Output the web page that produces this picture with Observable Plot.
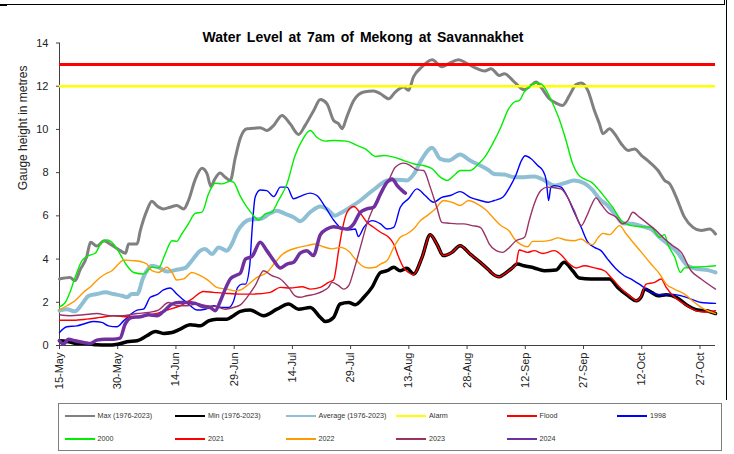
<!DOCTYPE html>
<html>
<head>
<meta charset="utf-8">
<script src="https://cdn.jsdelivr.net/npm/d3@7"></script>
<script src="https://cdn.jsdelivr.net/npm/@observablehq/plot@0.6"></script>
<style>
  body { margin: 0; background: #fff; font-family: "Liberation Sans", Arial, sans-serif; }
  #wrap { position: relative; width: 734px; height: 454px; overflow: hidden; background: #fff; }
  #chart { position: absolute; left: 0; top: 0; }
  #title { position: absolute; left: 0; width: 726px; top: 29px; text-align: center; font-weight: bold;
           font-size: 14px; line-height: 16px; color: #000; word-spacing: 2px; }
  .bline { position: absolute; background: #000; }
  #legend { position: absolute; left: 58px; top: 403px; width: 664px; height: 48px; box-sizing: border-box;
            border: 1.5px solid #7f7f7f; }
  .lg-line { position: absolute; height: 2px; width: 30px; }
  .lg-text { position: absolute; font-size: 7.2px; line-height: 9px; color: #333; white-space: nowrap; }
</style>
</head>
<body>
<div id="wrap">
  <div id="chart"></div>
  <div id="title">Water Level at 7am of Mekong at Savannakhet</div>
  <div class="bline" style="left:0;top:4px;width:725px;height:1px"></div>
  <div class="bline" style="left:0;top:4px;width:7px;height:2px"></div>
  <div class="bline" style="left:724px;top:0;width:1px;height:5px"></div>
  <div class="bline" style="left:726px;top:0;width:1px;height:400px"></div>
  <div id="legend"></div>
</div>
<script>
// x = days after 15 May, y = gauge height (m)
const tickDays = [0, 15, 30, 45, 60, 75, 90, 105, 120, 135, 150, 165];
const tickLabels = ["15-May", "30-May", "14-Jun", "29-Jun", "14-Jul", "29-Jul", "13-Aug", "28-Aug", "12-Sep", "27-Sep", "12-Oct", "27-Oct"];
const yTicks = [0, 2, 4, 6, 8, 10, 12, 14];
const alarmLevel = 12;
const floodLevel = 13;

const maxLevel = [[0,3.08],[2.7,3.15],[4,3.0],[5.3,3.5],[7,4.1],[8,4.78],[9.6,4.6],[11.5,4.85],[13,4.7],[15,4.47],[17,4.27],[17.8,4.7],[20,4.7],[20.8,5.3],[22.5,6.24],[23.8,6.68],[25,6.48],[26.8,6.32],[28.5,6.4],[30.2,6.48],[32,6.32],[33.2,6.7],[35,7.7],[36.7,8.2],[38,7.95],[39,7.36],[40,7.7],[41.4,7.98],[42.7,7.79],[44,7.64],[45.3,8.7],[46.6,9.6],[48.3,10.03],[50,10.05],[51.7,10.08],[53.4,9.95],[55.2,10.19],[57.3,10.65],[59.4,10.26],[61.6,9.77],[63.3,10.19],[65.5,10.88],[67.2,11.38],[68.9,11.19],[70.6,10.42],[71.9,10.26],[72.8,10.03],[74,10.57],[75.8,11.34],[78.4,11.73],[80.9,11.78],[82.7,11.65],[84.8,11.42],[86.5,11.73],[88.7,11.96],[89.9,11.81],[91.2,12.43],[93.4,12.9],[96,13.23],[98.5,12.9],[100.3,13.05],[102.8,13.23],[105,13.05],[107.6,12.81],[109.5,12.7],[111.2,12.81],[113.3,12.5],[114.6,12.58],[117.2,12.19],[119.7,11.84],[121.5,12.04],[122.8,12.19],[124,11.96],[126.2,11.42],[127.9,11.22],[129.6,11.11],[131.4,11.58],[133.1,12.08],[134.4,12.15],[136.1,11.81],[137.8,10.88],[139.1,10.26],[140,9.8],[141.7,10.03],[143,9.8],[144.7,9.34],[146.5,9.03],[148.2,9.1],[149.9,8.8],[152,8.49],[154.2,8.1],[155.9,7.64],[157.2,7.48],[158.9,6.86],[161,5.94],[163.2,5.47],[165.3,5.32],[167.5,5.39],[169,5.16]];

const minLevel = [[0,0.22],[1.9,0.19],[4.5,0.09],[7,0.09],[9.6,0.03],[12.2,0.02],[15,0.06],[17.4,0.17],[20,0.22],[22.5,0.45],[24.7,0.65],[26.8,0.56],[29,0.6],[31.1,0.76],[33.7,0.96],[36.3,0.91],[38.4,1.14],[40.5,1.22],[43.1,1.22],[44.8,1.38],[46.6,1.58],[49.1,1.64],[52.6,1.38],[56,1.68],[59,1.92],[61.6,1.68],[64.6,1.76],[67.2,1.3],[68.5,1.11],[70.6,1.3],[72.3,1.92],[74.5,1.99],[76.2,1.89],[78.4,2.23],[80.5,2.69],[82.7,3.38],[84.4,3.46],[86.1,3.62],[87.8,3.46],[89.5,3.57],[91.2,3.31],[93.4,4.08],[95.5,5.13],[97.2,4.7],[98.9,4.16],[101.1,4.31],[103.2,4.62],[105.8,4.23],[108.4,3.85],[110.6,3.49],[111.2,3.38],[113.3,3.18],[114.6,3.31],[116.3,3.54],[118,3.77],[119.7,3.69],[122.3,3.59],[124.9,3.46],[127.9,3.49],[130,3.85],[132.2,3.46],[133.9,3.12],[136.9,3.08],[141.7,3.08],[143.8,2.69],[146.5,2.3],[148.6,2.07],[149.9,2.26],[150.7,2.61],[152.5,2.46],[154.2,2.3],[156.3,2.35],[158.9,2.23],[161.9,1.84],[164.4,1.64],[166.6,1.61],[169,1.48]];

const avgLevel = [[0,1.61],[1.9,1.68],[4,1.58],[5.8,1.92],[7.5,2.3],[9.6,2.38],[11.8,2.46],[13.9,2.38],[16.1,2.3],[17.4,2.23],[18.6,2.38],[20,2.38],[21.6,3.15],[23.8,3.69],[25.5,3.62],[27.7,3.42],[29.8,3.49],[32.4,3.59],[34.1,3.93],[36.3,4.39],[37.5,4.47],[39.3,4.23],[41,4.54],[43.1,4.39],[44.4,4.7],[45.7,5.24],[47.4,5.66],[49.1,5.83],[51.7,5.86],[54.3,6.12],[56,6.24],[58.2,6.09],[60.3,5.94],[62,5.75],[64.6,6.17],[67.2,6.43],[68.9,6.32],[71,6.01],[72.3,6.12],[74.9,6.4],[77.5,6.71],[80.1,7.09],[81.8,7.33],[84.4,7.64],[86.9,7.67],[89.5,7.64],[91.2,7.91],[93.4,8.64],[96,9.15],[98.1,8.64],[100.3,8.56],[103.2,8.84],[105.8,8.56],[108.4,8.33],[110.5,8.12],[112,7.94],[114.6,7.91],[117.2,7.79],[119.7,7.79],[122.3,7.82],[124.9,7.64],[127.5,7.4],[130,7.51],[132.6,7.64],[135.2,7.51],[137.3,7.2],[139.1,6.79],[141.2,6.48],[143.4,6.01],[145.1,5.66],[147.7,5.63],[150.3,5.5],[152.4,5.39],[154.6,5.01],[156.7,4.7],[159.2,4.31],[161.8,3.69],[164.4,3.54],[167,3.49],[169,3.38]];

const level1998 = [[0,0.6],[1.9,0.87],[4.5,0.91],[6.6,1.02],[8.8,1.11],[10.9,1.07],[12.6,0.91],[14.8,0.87],[16.5,1.14],[18.6,1.48],[20,1.64],[21.6,1.68],[23.4,2.23],[25.1,2.35],[26.8,2.57],[28.5,2.66],[30.2,2.38],[32,2.1],[33.7,1.84],[35.4,1.64],[37.5,1.68],[39.7,1.84],[41.8,1.76],[43.6,1.76],[44.8,2.04],[45.9,2.69],[47,2.84],[47.9,2.84],[49,3.69],[49.6,5.32],[50.4,6.86],[51.7,7.2],[53.4,7.17],[55.2,6.89],[56.9,7.33],[58.6,7.33],[60.3,6.79],[62.5,6.94],[64.6,7.05],[66.3,6.94],[68.5,6.4],[70.6,5.81],[72.3,5.47],[74.5,5.35],[76.2,5.39],[77,5.04],[78.4,5.47],[80.5,5.78],[82.7,5.63],[84.4,5.39],[86.1,5.47],[87.8,6.4],[89.9,6.79],[92.1,7.25],[94.2,6.94],[96.4,6.63],[98.5,6.86],[100.7,6.94],[103.2,7.12],[105.8,6.86],[108.4,6.71],[110.5,6.63],[112,6.71],[114.2,6.86],[116,7.33],[117.7,7.94],[119,8.56],[120,8.78],[121.5,8.64],[123.2,8.33],[124.5,8.1],[125.4,7.64],[126,6.71],[126.6,7.33],[127.5,7.4],[129.2,7.33],[130.9,6.86],[132.6,6.17],[134.4,5.47],[136.1,4.78],[137.8,4.54],[139.5,4.39],[141.2,4.0],[143.4,3.54],[145.5,3.23],[147.7,3.03],[149.9,2.77],[152.4,2.46],[155,2.35],[157.6,2.38],[160.2,2.3],[162.7,2.15],[165.3,1.99],[169,1.95]];

const level2000 = [[0,1.79],[1.5,1.99],[2.7,2.46],[4,3.15],[5.8,3.93],[7.5,4.16],[9.2,4.27],[10.9,4.78],[12.2,4.88],[13.9,4.7],[15.6,4.23],[17.4,3.69],[19.1,3.38],[21.6,3.31],[23.8,3.62],[25.5,3.59],[27.2,4.23],[29,4.85],[30.2,4.82],[31.5,5.16],[33.2,5.63],[35,6.12],[36.7,6.17],[38.4,7.02],[40.1,7.51],[41.8,7.48],[44,7.6],[44.8,7.56],[46.6,6.9],[48.3,6.4],[50,6.01],[51.3,5.81],[53,6.09],[54.7,6.17],[56.4,6.71],[58.6,7.48],[60.7,8.79],[62.5,9.49],[64.6,9.95],[66.3,9.64],[68.5,9.46],[70.6,9.49],[74,9.46],[76.6,9.26],[78.8,9.1],[81.4,8.75],[83.5,8.79],[86.1,8.72],[88.7,8.56],[91.2,8.41],[93.8,8.33],[96,8.18],[98.1,7.79],[99.9,7.64],[101.6,7.87],[103.3,8.1],[105.8,8.1],[108,8.41],[109.7,8.75],[111.6,9.34],[113.7,10.1],[115.5,10.88],[117.2,11.27],[118.5,11.34],[119.7,11.73],[121.5,12.04],[122.8,12.15],[124,12.12],[125.4,11.81],[127.1,11.19],[128.8,10.45],[130.5,9.49],[132.2,8.41],[133.5,7.94],[135.2,7.71],[137,7.56],[139.1,7.17],[140.8,6.79],[142.5,6.4],[144.7,5.78],[147.3,5.55],[149.9,5.5],[152.4,5.47],[154.6,5.01],[155.9,5.13],[156.7,4.7],[158.5,4.08],[160,3.38],[161,3.59],[163.6,3.62],[166.1,3.65],[169,3.69]];

const level2021 = [[0,1.17],[3.6,1.17],[7,1.22],[10.5,1.3],[13.9,1.38],[17.4,1.33],[20.8,1.33],[24.2,1.45],[27.7,1.64],[31.1,1.84],[34.1,2.15],[37.1,2.5],[39.7,2.46],[43.1,2.41],[46.6,2.38],[50,2.38],[54.3,2.46],[56.9,2.69],[59.4,2.66],[62.5,2.72],[64.6,2.61],[67.2,2.69],[69.3,2.92],[70.6,3.03],[71.9,4.39],[72.8,5.32],[74.1,6.17],[75.8,6.43],[77.5,6.12],[79.2,5.7],[80.9,5.47],[82.7,5.24],[84.8,5.01],[86.1,4.7],[87.4,4.08],[88.7,3.59],[89.9,3.38],[91.2,3.28],[93.4,4.08],[95.5,5.13],[97.2,4.7],[98.9,4.16],[101.1,4.31],[103.2,4.62],[105.8,4.23],[108.4,3.85],[110.6,3.49],[111.2,3.38],[113.3,3.18],[114.6,3.31],[116.3,3.54],[117.6,3.75],[118.4,4.42],[120.6,4.31],[122.3,4.39],[124.5,4.26],[127.5,4.39],[129.2,4.2],[131.4,3.77],[133.1,3.59],[135.2,3.69],[137.8,3.59],[140.4,3.46],[142.1,3.15],[144.7,2.63],[147.3,2.24],[148.6,2.07],[149.9,2.3],[151.1,2.84],[153.3,2.92],[155,3.08],[156.3,2.69],[158.4,2.24],[161,1.92],[163.6,1.64],[166.1,1.55],[169,1.61]];

const level2022 = [[0,1.64],[1.9,1.84],[4,2.07],[6.2,2.46],[8.3,2.77],[10,3.08],[11.8,3.31],[13.5,3.46],[15.2,3.77],[16.5,3.96],[18.6,3.93],[20.8,3.89],[22.5,3.77],[23.8,3.46],[25.5,3.38],[27.7,3.62],[29,3.38],[30.2,3.03],[32,3.08],[34.1,3.38],[36.3,3.23],[38.4,3.0],[40.5,2.69],[43.1,2.61],[45.3,2.53],[47,2.6],[48.3,2.77],[50.9,3.15],[53.4,3.38],[55.6,3.85],[57.3,4.2],[59.4,4.42],[61.6,4.54],[63.7,4.62],[65.9,4.7],[68,4.57],[70.2,4.47],[72.3,4.54],[74.5,4.36],[76.2,4.0],[77.9,3.69],[79.6,3.59],[81.4,3.62],[82.7,3.77],[84.4,3.93],[86.1,4.54],[87.8,5.01],[89.5,5.16],[91.2,5.39],[93,5.78],[94.7,6.01],[96.8,6.32],[99,6.71],[101.1,6.63],[103.2,6.48],[105.4,6.71],[107.6,6.55],[109.8,6.28],[111.6,5.94],[113.7,5.55],[115.9,5.29],[117.2,4.93],[118.9,4.67],[120.6,4.57],[121.9,4.82],[124,4.82],[126.6,4.88],[128.4,4.98],[130.5,4.88],[132.6,4.85],[134.4,4.93],[136.1,4.73],[137.4,4.67],[138.7,4.98],[140,5.19],[141.7,5.13],[144.3,5.55],[146,5.16],[148.1,4.7],[150.3,4.23],[152.4,3.77],[154.6,3.31],[156.3,2.84],[158.4,2.61],[161,2.38],[163.6,1.99],[166.1,1.68],[169,1.48]];

const level2023 = [[0,1.42],[2.7,1.38],[6.2,1.42],[9.6,1.48],[13.1,1.38],[16.5,1.38],[20,1.48],[22.9,1.53],[25.5,1.64],[28.1,1.99],[30.2,1.84],[32.8,1.84],[35.4,1.92],[38,1.84],[40.5,1.79],[42.7,1.68],[44.8,1.76],[46.6,1.88],[48.3,2.23],[50.4,2.77],[52.6,3.46],[54.7,3.23],[56.9,3.08],[59,2.69],[60.7,2.3],[62,2.23],[63.7,2.3],[65.9,2.38],[68,2.53],[69.3,2.69],[70.2,2.92],[71.9,2.77],[73.2,2.61],[74.5,2.77],[75.8,3.46],[77.5,4.54],[79.2,5.63],[80.9,6.4],[82.7,7.02],[84.8,7.64],[86.5,8.25],[88.7,8.44],[90.4,8.33],[92.1,8.13],[93.8,8.1],[95.5,7.33],[97.2,6.4],[98.5,5.7],[100.3,5.66],[102.4,5.63],[104.1,5.63],[106.3,5.55],[108.4,5.47],[109.8,5.05],[110.7,4.7],[112.5,4.39],[114.2,4.31],[115.9,4.54],[117.6,4.85],[119.8,5.01],[121,5.78],[122.3,6.55],[124,7.17],[125.7,7.33],[127.5,7.3],[129.2,7.25],[130.9,6.86],[132.6,6.24],[134.4,5.55],[135.7,5.94],[137,6.48],[138.2,6.83],[139.5,6.55],[141.2,6.17],[143.4,5.94],[145.1,5.63],[146.4,5.78],[147.7,6.17],[149.4,5.94],[151.6,5.63],[153.7,5.32],[155.9,4.93],[158,4.62],[160.2,4.31],[162.7,3.46],[165.3,3.08],[169,2.61]];

const level2024 = [[0,0.22],[1,0.06],[2.3,0.29],[4,0.22],[6.2,0.14],[7.9,0.09],[9.6,0.25],[11.8,0.29],[13.9,0.29],[15.6,0.34],[16.9,0.99],[18.6,1.3],[20.8,1.33],[22.9,1.42],[25.1,1.38],[26.8,1.58],[29,1.92],[30.7,1.99],[32.8,1.99],[35,1.95],[37.1,1.79],[38.8,1.76],[40.1,1.61],[41.4,2.04],[42.7,2.61],[44,3.08],[45.3,3.23],[46.6,3.35],[47.9,4.0],[49.6,4.12],[51.7,4.78],[53.4,4.39],[55.2,3.93],[56.9,3.59],[58.6,3.77],[60.3,3.85],[62,4.27],[63.7,4.39],[65.4,4.16],[67.2,5.13],[68.9,5.39],[70.6,5.5],[72.3,5.44],[74,5.39],[75.8,5.63],[77.5,6.17],[79.2,6.32],[80.9,6.4],[82.7,7.02],[84.4,7.56],[85.7,7.71],[87,7.4],[88.3,7.17],[89.1,7.05]];

const seriesNames = ["Max (1976-2023)", "Min (1976-2023)", "Average (1976-2023)", "Alarm", "Flood", "1998", "2000", "2021", "2022", "2023", "2024"];
const seriesColors = ["#808080", "#000000", "#8fbfd4", "#ffff00", "#ff0000", "#0000ff", "#00ee00", "#ff0000", "#ff9900", "#993366", "#7030a0"];
const seriesWidths = [3, 3.5, 4, 2.5, 3, 1.4, 1.4, 1.4, 1.4, 1.4, 3.5];

const lineOf = (data, i) => Plot.line(data, {
  x: d => d[0], y: d => d[1], stroke: seriesColors[i], strokeWidth: seriesWidths[i],
  curve: "monotone-x", strokeLinejoin: "round", strokeLinecap: "round"
});

const chart = Plot.plot({
  width: 734,
  height: 398,
  marginLeft: 59,
  marginRight: 19,
  marginTop: 42.5,
  marginBottom: 53,
  x: { domain: [0, 169] },
  y: { domain: [0, 14] },
  style: { fontFamily: "Liberation Sans, Arial, sans-serif", fontSize: "11px", color: "#222", background: "white" },
  marks: [
    Plot.axisY({ ticks: yTicks, tickSize: 3, tickPadding: 8, label: null, stroke: "#404040" }),
    Plot.axisX({ ticks: tickDays, tickFormat: d => tickLabels[tickDays.indexOf(d)], tickRotate: -90,
                 tickSize: 4, tickPadding: 3, label: null, stroke: "#404040" }),
    Plot.ruleX([0], { stroke: "#404040" }),
    Plot.ruleY([0], { stroke: "#404040" }),
    Plot.text(["Gauge height in metres"], { frameAnchor: "left", dx: -36, dy: -4, rotate: -90, fontSize: 12, fill: "#222" }),
    lineOf(maxLevel, 0),
    lineOf(minLevel, 1),
    lineOf(avgLevel, 2),
    Plot.ruleY([alarmLevel], { stroke: seriesColors[3], strokeWidth: seriesWidths[3] }),
    Plot.ruleY([floodLevel], { stroke: seriesColors[4], strokeWidth: seriesWidths[4] }),
    lineOf(level1998, 5),
    lineOf(level2000, 6),
    lineOf(level2021, 7),
    lineOf(level2022, 8),
    lineOf(level2023, 9),
    lineOf(level2024, 10)
  ]
});
document.getElementById("chart").appendChild(chart);

// Legend (2 rows x 6 columns)
const legend = d3.select("#legend");
seriesNames.forEach((name, i) => {
  const col = i % 6, row = Math.floor(i / 6);
  const lx = 65 + col * 110.5 - 58 - 1.5;
  const ly = 416 + row * 23 - 403 - 1.5;
  legend.append("div").attr("class", "lg-line")
    .style("left", lx + "px").style("top", (ly - 1) + "px")
    .style("background", seriesColors[i]);
  legend.append("div").attr("class", "lg-text")
    .style("left", (lx + 33) + "px").style("top", (ly - 4.5) + "px")
    .text(name);
});
</script>
</body>
</html>
